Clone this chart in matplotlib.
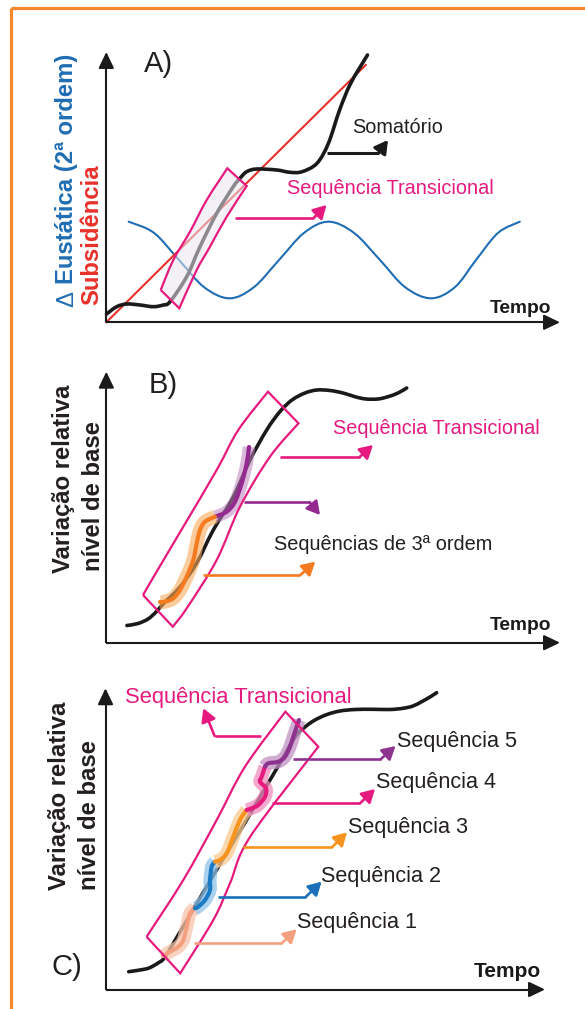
import numpy as np
import matplotlib
matplotlib.use('Agg')
import matplotlib.pyplot as plt
from matplotlib.path import Path
from matplotlib.patches import PathPatch

plt.rcParams['font.family'] = ['Liberation Sans', 'DejaVu Sans']

# ---------------- data: points (pixel space) ----------------
# Panel A
somatorio_x = [106.5, 116.7, 126.7, 140, 153.3, 163.3, 170, 186.7, 200, 216.7, 233.3, 240,
               246.7, 256.7, 276.7, 290, 302, 317, 328.4, 339.6, 350.7, 367.5]
somatorio_y = [314, 306.7, 304, 305, 306.7, 305, 301.7, 276.7, 246.7, 213.3, 186.7, 178.3,
               171.7, 169, 170, 172.3, 171.7, 163.3, 143.3, 110, 83.3, 55]
eustatic_x = [128.7, 154, 179, 204, 229.5, 254, 279, 304, 328.4, 354, 380, 405, 431, 455, 476, 498, 519.8]
eustatic_y = [221.7, 232.9, 260, 287.1, 298.3, 287.1, 260, 232.9, 221.7, 232.9, 260, 287.1, 298.3,
              287.1, 260, 232.9, 221.7]
subsid_x = [106.3, 365.7]
subsid_y = [322.3, 65]
boxA_left_x = [160.7, 173.3, 190, 206.7, 227.3]
boxA_left_y = [290, 260, 231.7, 200, 168.3]
boxA_right_x = [246.7, 226.7, 210, 196.7, 179.3]
boxA_right_y = [186, 216.7, 246.7, 270, 308.3]

# Panel B
curveB_x = [126.9, 138, 148, 156, 164, 180, 196.7, 213.3, 233.3, 250, 266.7, 280, 292, 305, 317,
            330, 343, 356, 366, 378, 388, 398, 406.7]
curveB_y = [625.5, 623.5, 619, 612, 603, 587, 563, 530, 497, 460, 430, 411.5, 400, 393, 390,
            390.5, 393, 397, 399, 399, 396.7, 393, 388]
purpleB_x = [249, 246.7, 241.7, 235, 226.7, 215]
purpleB_y = [447, 463.3, 483.3, 501.7, 511.7, 516.7]
orangeB_x = [215, 205, 200, 196.7, 193.3, 186.7, 180, 173.3, 165, 160]
orangeB_y = [516.7, 521.7, 530, 543.3, 560, 576.7, 590, 598.3, 601.7, 602]
boxB_left_x = [143, 160, 183.3, 216.7, 238.3, 268]
boxB_left_y = [595, 566, 526.7, 470, 430, 391.7]
boxB_right_x = [298.5, 270, 240, 216.7, 186.7, 172.8]
boxB_right_y = [423.3, 456.7, 506.7, 560, 608.3, 626.7]

# Panel C
curveC_x = [128.7, 140, 149, 158, 165, 180, 200, 220, 240, 260, 280, 295, 305, 315, 327, 340,
            355, 373, 390, 403, 413, 421.6, 430, 436.6]
curveC_y = [971.7, 970, 968, 963, 957, 932, 898, 864, 831, 797, 763, 737, 727, 720, 714.5, 711,
            709.5, 709.3, 709.5, 708.3, 706, 701.7, 697, 692.7]
seq5_x = [299, 296.7, 293.3, 290, 285, 278.3, 268.3, 265]
seq5_y = [720, 726.7, 736.7, 746.7, 756.7, 761.7, 763.3, 766.7]
seq4_x = [265, 261.7, 260, 266, 265, 258.3, 251.7, 246.7]
seq4_y = [766.7, 776.7, 781.7, 788.3, 796.7, 805, 808.3, 810]
seq3_x = [246.7, 240, 233.3, 226.7, 220, 215]
seq3_y = [810, 820, 836.7, 853.3, 860, 861.7]
seq2_x = [215, 211.7, 210, 210, 205, 198.3, 195]
seq2_y = [861.7, 866.7, 880, 890, 900, 906.7, 908.3]
seq1_x = [195, 190, 186.7, 183.3, 178.3, 170, 163]
seq1_y = [908.3, 913.3, 926.7, 940, 946.7, 951.7, 956]
boxC_left_x = [146.6, 183.3, 216.7, 245, 285.4]
boxC_left_y = [936.7, 880, 820, 766.7, 711.7]
boxC_right_x = [318.3, 250, 230, 213.3, 180.2]
boxC_right_y = [746.7, 837, 883.3, 920, 973.3]

# elbow arrows: start x, corner x, y of horizontal, tip x, tip y
arrows = {
    'somatorio': (327, 378.7, 152.7, 388, 140),
    'transA': (235, 313.4, 218.3, 326.5, 205),
    'transB': (279.9, 360, 456.7, 373, 445),
    'purpleB': (244.4, 309.7, 502.3, 320, 515),
    'orangeB': (203.4, 300.4, 575, 315.3, 561.7),
    'transC': (261, 214.6, 736, 203.4, 708.3),
    'seq5': (293, 380.6, 759.3, 395.5, 746),
    'seq4': (272.4, 360, 803.3, 375, 789),
    'seq3': (243.3, 332, 847.3, 347, 832.3),
    'seq2': (218.3, 306, 896.7, 321.6, 881.7),
    'seq1': (194, 281.7, 943.3, 296.6, 929.3),
}

# axes: x of y-axis, y of x-axis, top of y-axis, right end of x-axis
panel_axes = [(106.3, 322.3, 52, 560), (106.3, 642.7, 371.7, 560), (105.5, 989.5, 688.3, 545)]

# ---------------- colours ----------------
PINK = '#e6197f'
BLUE = '#1f6db3'
RED = '#e8302a'
BLACK = '#1a1a1a'
TXT = '#231f20'
ORANGE = '#f47b20'
PURPLE = '#94298f'
BORDER = '#f5872c'

fig = plt.figure(figsize=(5.85, 10.09), dpi=100)
ax = fig.add_axes([0, 0, 1, 1])
ax.set_xlim(0, 585)
ax.set_ylim(1009, 0)
ax.axis('off')


def bezier(xs, ys):
    pts = np.column_stack([xs, ys]).astype(float)
    n = len(pts)
    verts = [pts[0]]
    codes = [Path.MOVETO]
    for i in range(n - 1):
        p0 = pts[i - 1] if i > 0 else pts[i]
        p1, p2 = pts[i], pts[i + 1]
        p3 = pts[i + 2] if i + 2 < n else pts[i + 1]
        verts += [p1 + (p2 - p0) / 6, p2 - (p3 - p1) / 6, p2]
        codes += [Path.CURVE4] * 3
    return verts, codes


def curve(xs, ys, color, lw, alpha=1, cap='round', z=3):
    v, c = bezier(xs, ys)
    ax.add_patch(PathPatch(Path(v, c), fill=False, edgecolor=color, lw=lw, alpha=alpha,
                           capstyle=cap, joinstyle='round', zorder=z))


def box(lx, ly, rx, ry, face='none', falpha=0, z=5):
    v1, c1 = bezier(lx, ly)
    v2, c2 = bezier(rx, ry)
    c2 = [Path.LINETO] + c2[1:]
    verts = v1 + v2 + [v1[0]]
    codes = c1 + c2 + [Path.LINETO]
    if face != 'none':
        ax.add_patch(PathPatch(Path(verts, codes), facecolor=face, edgecolor='none',
                               alpha=falpha, zorder=z))
    ax.add_patch(PathPatch(Path(verts, codes), facecolor='none', edgecolor=PINK, lw=1.6,
                           joinstyle='miter', zorder=z + 0.1))


def elbow(key, color, lw=1.9, z=6):
    x0, x1, y, xt, yt = arrows[key]
    ax.plot([x0, x1], [y, y], color=color, lw=lw, solid_capstyle='butt', zorder=z)
    ax.annotate('', xy=(xt, yt), xytext=(x1, y),
                arrowprops=dict(arrowstyle='-|>,head_length=0.6,head_width=0.34', color=color,
                                lw=lw, shrinkA=0, shrinkB=0, mutation_scale=13), zorder=z)


# orange frame
ax.plot([11, 11], [7.5, 1009], color=BORDER, lw=2.3, solid_capstyle='butt')
ax.plot([11, 585], [7.5, 7.5], color=BORDER, lw=2.3, solid_capstyle='butt')

# axes
for xa, ya, ytop, xr in panel_axes:
    ax.plot([xa, xr - 6], [ya, ya], color=BLACK, lw=1.5, solid_capstyle='butt', zorder=4)
    ax.plot([xa, xa], [ya, ytop + 6], color=BLACK, lw=1.5, solid_capstyle='butt', zorder=4)
    ax.annotate('', xy=(xr, ya), xytext=(xr - 12, ya),
                arrowprops=dict(arrowstyle='-|>,head_length=0.75,head_width=0.36', color=BLACK,
                                lw=1.5, shrinkA=0, shrinkB=0, mutation_scale=13), zorder=4)
    ax.annotate('', xy=(xa, ytop), xytext=(xa, ytop + 12),
                arrowprops=dict(arrowstyle='-|>,head_length=0.75,head_width=0.36', color=BLACK,
                                lw=1.5, shrinkA=0, shrinkB=0, mutation_scale=13), zorder=4)

# ---------------- Panel A ----------------
curve(eustatic_x, eustatic_y, BLUE, 1.5)
ax.plot(subsid_x, subsid_y, color=RED, lw=1.5, zorder=3)
curve(somatorio_x, somatorio_y, BLACK, 2.6)
box(boxA_left_x, boxA_left_y, boxA_right_x, boxA_right_y, face='#ebe6f0', falpha=0.55)
elbow('somatorio', BLACK, lw=2.2)
elbow('transA', PINK)
ax.text(143.5, 71.7, 'A)', fontsize=21, color=TXT, va='baseline', ha='left')
ax.text(352.6, 133.3, 'Somatório', fontsize=14.3, color=TXT, va='baseline', ha='left')
ax.text(287, 193.5, 'Sequência Transicional', fontsize=14.3, color=PINK, va='baseline', ha='left')
ax.text(489.6, 313, 'Tempo', fontsize=13.8, color=BLACK, fontweight='bold', va='baseline', ha='left')
ax.text(67, 306.7, 'Δ', fontsize=17.2, color=BLUE, fontweight='normal',
        rotation=90, ha='center', va='bottom')
ax.text(67, 284.5, 'Eustática (2ª ordem)', fontsize=17.2, color=BLUE, fontweight='bold',
        rotation=90, ha='center', va='bottom')
ax.text(91.4, 305, 'Subsidência', fontsize=17.2, color=RED, fontweight='bold',
        rotation=90, ha='center', va='bottom')

# ---------------- Panel B ----------------
curve(curveB_x, curveB_y, BLACK, 2.6)
curve(purpleB_x, purpleB_y, '#bf80bd', 9, alpha=0.55, cap='butt', z=3.2)
curve(orangeB_x, orangeB_y, '#f8aa5b', 10, alpha=0.6, cap='butt', z=3.2)
curve(purpleB_x, purpleB_y, PURPLE, 3.0, z=3.4)
curve(orangeB_x, orangeB_y, ORANGE, 3.0, z=3.4)
box(boxB_left_x, boxB_left_y, boxB_right_x, boxB_right_y)
elbow('transB', PINK)
elbow('purpleB', PURPLE)
elbow('orangeB', ORANGE)
ax.text(149, 393.3, 'B)', fontsize=21, color=TXT, va='baseline', ha='left')
ax.text(333, 434.3, 'Sequência Transicional', fontsize=14.3, color=PINK, va='baseline', ha='left')
ax.text(274, 550, 'Sequências de 3ª ordem', fontsize=14.3, color=TXT, va='baseline', ha='left')
ax.text(489.6, 630, 'Tempo', fontsize=13.8, color=BLACK, fontweight='bold', va='baseline', ha='left')
ax.text(63.4, 573, 'Variação relativa', fontsize=17.2, color=TXT, fontweight='bold',
        rotation=90, ha='center', va='bottom')
ax.text(93, 571, 'nível de base', fontsize=17.2, color=TXT, fontweight='bold',
        rotation=90, ha='center', va='bottom')

# ---------------- Panel C ----------------
curve(curveC_x, curveC_y, BLACK, 2.6)
seqs = [(seq1_x, seq1_y, '#f4a07e', '#f8c2aa'),
        (seq2_x, seq2_y, '#1a7bc4', '#8ec2ea'),
        (seq3_x, seq3_y, '#f7941d', '#fbc98f'),
        (seq4_x, seq4_y, PINK, '#f08dbd'),
        (seq5_x, seq5_y, '#8e3290', '#c190c3')]
for sx, sy, dark, light in seqs:
    curve(sx, sy, light, 9.5, alpha=0.75, cap='butt', z=3.2)
for sx, sy, dark, light in seqs:
    curve(sx, sy, dark, 3.0, z=3.4)
box(boxC_left_x, boxC_left_y, boxC_right_x, boxC_right_y)
elbow('transC', PINK)
elbow('seq5', '#8e3290')
elbow('seq4', PINK)
elbow('seq3', '#f7941d')
elbow('seq2', '#1a6fb8')
elbow('seq1', '#f4a07e')
ax.text(51.5, 975, 'C)', fontsize=21, color=TXT, va='baseline', ha='left')
ax.text(125, 703.3, 'Sequência Transicional', fontsize=15.8, color=PINK, va='baseline', ha='left')
for label, xl, yl in [('Sequência 5', 397, 746.7), ('Sequência 4', 376, 788.3),
                      ('Sequência 3', 347.8, 833.3), ('Sequência 2', 321, 882.3),
                      ('Sequência 1', 296.6, 928.3)]:
    ax.text(xl, yl, label, fontsize=15.6, color=TXT, va='baseline', ha='left')
ax.text(474, 977, 'Tempo', fontsize=15, color=BLACK, fontweight='bold', va='baseline', ha='left')
ax.text(59.7, 890, 'Variação relativa', fontsize=17.2, color=TXT, fontweight='bold',
        rotation=90, ha='center', va='bottom')
ax.text(89.6, 890, 'nível de base', fontsize=17.2, color=TXT, fontweight='bold',
        rotation=90, ha='center', va='bottom')

fig.savefig('out.png', dpi=100)
